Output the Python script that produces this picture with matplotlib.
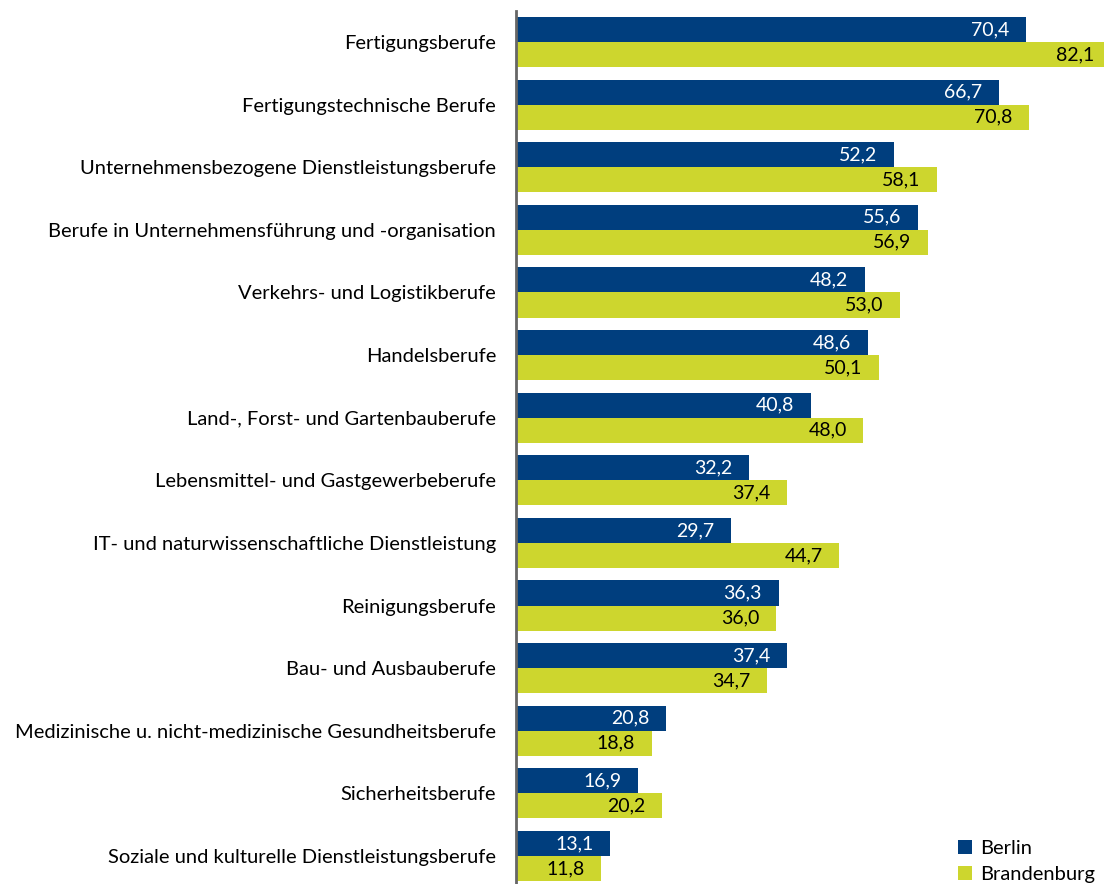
import matplotlib
matplotlib.use("Agg")
import matplotlib.pyplot as plt
import numpy as np

categories = [
    "Fertigungsberufe",
    "Fertigungstechnische Berufe",
    "Unternehmensbezogene Dienstleistungsberufe",
    "Berufe in Unternehmensführung und -organisation",
    "Verkehrs- und Logistikberufe",
    "Handelsberufe",
    "Land-, Forst- und Gartenbauberufe",
    "Lebensmittel- und Gastgewerbeberufe",
    "IT- und naturwissenschaftliche Dienstleistung",
    "Reinigungsberufe",
    "Bau- und Ausbauberufe",
    "Medizinische u. nicht-medizinische Gesundheitsberufe",
    "Sicherheitsberufe",
    "Soziale und kulturelle Dienstleistungsberufe",
]
berlin = [70.4, 66.7, 52.2, 55.6, 48.2, 48.6, 40.8, 32.2, 29.7, 36.3, 37.4, 20.8, 16.9, 13.1]
brandenburg = [82.1, 70.8, 58.1, 56.9, 53.0, 50.1, 48.0, 37.4, 44.7, 36.0, 34.7, 18.8, 20.2, 11.8]

plt.rcParams["font.family"] = ["Lato", "DejaVu Sans"]

col_berlin = "#003e7e"
col_brb = "#cdd62e"

W, H = 1104, 884
fig = plt.figure(figsize=(W / 100, H / 100), dpi=100)
ax = fig.add_axes([515.5 / W, 0, (W - 515.5) / W, 873 / H])

y = np.arange(len(categories))
h = 0.40
b1 = ax.barh(y - h / 2, berlin, height=h, color=col_berlin, label="Berlin")
b2 = ax.barh(y + h / 2, brandenburg, height=h, color=col_brb, label="Brandenburg")

for rect, v in zip(b1, berlin):
    ax.annotate(f"{v:.1f}".replace(".", ","), (v, rect.get_y() + rect.get_height() / 2),
                xytext=(-12, 0), textcoords="offset points", ha="right", va="center",
                color="white", fontsize=14)
for rect, v in zip(b2, brandenburg):
    ax.annotate(f"{v:.1f}".replace(".", ","), (v, rect.get_y() + rect.get_height() / 2),
                xytext=(-12, 0), textcoords="offset points", ha="right", va="center",
                color="black", fontsize=14, annotation_clip=False)

ax.set_xlim(0, 81.2)
ax.set_ylim(13.447, -0.495)
ax.set_yticks(y)
ax.set_yticklabels(categories, fontsize=14.5)
ax.tick_params(axis="y", length=0, pad=14)
ax.set_xticks([])
for s in ["top", "right", "bottom"]:
    ax.spines[s].set_visible(False)
ax.spines["left"].set_color("#666666")
ax.spines["left"].set_linewidth(2)

ax.legend(loc="lower right", bbox_to_anchor=(0.998, -0.008), frameon=False, fontsize=14.5,
          handlelength=0.7, handleheight=0.7, handletextpad=0.4, labelspacing=0.45,
          borderaxespad=0.0)

fig.savefig("out.png", dpi=100)
